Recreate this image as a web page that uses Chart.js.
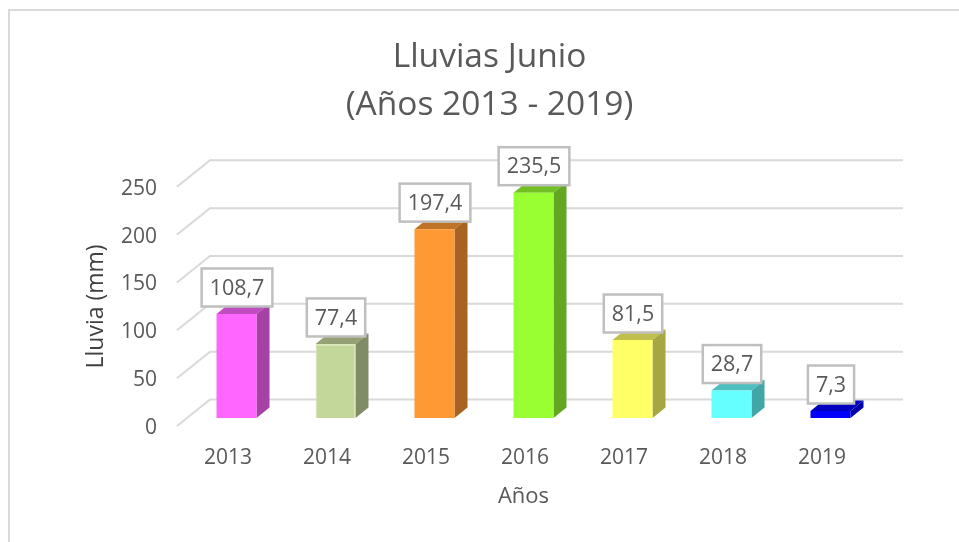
<!DOCTYPE html>
<html>
<head>
<meta charset="utf-8">
<script src="https://cdn.jsdelivr.net/npm/chart.js@4"></script>
<style>
  html, body { margin: 0; background: #fff; overflow: hidden; }
  #frame { position: absolute; left: 8px; top: 9px; width: 960px; height: 560px; border: 2px solid #d9d9d9; box-sizing: border-box; }
  #wrap { position: absolute; left: 20px; top: 0; width: 939px; height: 542px; }
</style>
</head>
<body>
<div id="frame"></div>
<div id="wrap"><canvas id="chart" width="939" height="542"></canvas></div>
<script>
const titleLines = ['Lluvias Junio', '(Años 2013 - 2019)'];
const years = ['2013', '2014', '2015', '2016', '2017', '2018', '2019'];
const rainfall = [108.7, 77.4, 197.4, 235.5, 81.5, 28.7, 7.3];
const barColors = ['#ff66ff', '#c4d79b', '#ff9933', '#99ff33', '#ffff66', '#66ffff', '#0000ff'];
const barEdges = [0, 1.5, 0, 0, 0, 0, 0];
const yTicks = [0, 50, 100, 150, 200, 250];

const TEXT = '#595959';
const FONT = '"Open Sans"';

// wall goes back this far from the axis plane, bars sit part way in
const wallDx = 33, wallDy = -26.5;
const barDx = 10, barDy = -8;
const sideDx = 13, sideDy = -10.5;

function shade(hex, k) {
  const n = parseInt(hex.slice(1), 16);
  const r = Math.round((n >> 16 & 255) * k);
  const g = Math.round((n >> 8 & 255) * k);
  const b = Math.round((n & 255) * k);
  return `rgb(${r},${g},${b})`;
}

const fakeDepth = {
  id: 'fakeDepth',
  beforeDatasetsDraw(chart) {
    const { ctx, chartArea, scales } = chart;
    ctx.save();
    ctx.strokeStyle = '#d9d9d9';
    ctx.lineWidth = 2;
    yTicks.forEach(v => {
      const y = scales.y.getPixelForValue(v);
      ctx.beginPath();
      ctx.moveTo(chartArea.left, y);
      ctx.lineTo(chartArea.left + wallDx, y + wallDy);
      ctx.lineTo(chartArea.right + wallDx, y + wallDy);
      ctx.stroke();
    });
    ctx.restore();

    ctx.save();
    ctx.translate(barDx, barDy);
    chart.getDatasetMeta(0).data.forEach((bar, i) => {
      const l = bar.x - bar.width / 2, r = bar.x + bar.width / 2;
      ctx.fillStyle = shade(barColors[i], 0.75);
      ctx.beginPath();
      ctx.moveTo(l, bar.y);
      ctx.lineTo(l + sideDx, bar.y + sideDy);
      ctx.lineTo(r + sideDx, bar.y + sideDy);
      ctx.lineTo(r, bar.y);
      ctx.fill();
      ctx.fillStyle = shade(barColors[i], 0.65);
      ctx.beginPath();
      ctx.moveTo(r, bar.y);
      ctx.lineTo(r + sideDx, bar.y + sideDy);
      ctx.lineTo(r + sideDx, bar.base + sideDy);
      ctx.lineTo(r, bar.base);
      ctx.fill();
    });
    // front faces get drawn by chart.js inside this translate
  },
  afterDatasetsDraw(chart) {
    const { ctx } = chart;
    ctx.restore();
    ctx.save();
    ctx.font = '21.5px ' + FONT;
    ctx.textAlign = 'center';
    ctx.textBaseline = 'middle';
    chart.getDatasetMeta(0).data.forEach((bar, i) => {
      const txt = rainfall[i].toFixed(1).replace('.', ',');
      const w = ctx.measureText(txt).width + 16;
      const h = 38;
      const cx = bar.x + barDx + 0.5;
      const bottom = bar.y + barDy - 7.5;
      ctx.fillStyle = '#fff';
      ctx.strokeStyle = '#bfbfbf';
      ctx.lineWidth = 2.5;
      ctx.fillRect(cx - w / 2, bottom - h, w, h);
      ctx.strokeRect(cx - w / 2, bottom - h, w, h);
      ctx.fillStyle = TEXT;
      ctx.fillText(txt, cx, bottom - h / 2 + 1);
    });
    ctx.restore();
  }
};

new Chart(document.getElementById('chart'), {
  type: 'bar',
  data: {
    labels: years,
    datasets: [{
      data: rainfall,
      backgroundColor: barColors,
      borderColor: '#d8e6b8',
      borderWidth: barEdges,
      barPercentage: 1,
      categoryPercentage: 40 / 99
    }]
  },
  options: {
    responsive: false,
    animation: false,
    layout: { padding: { left: 0, right: 0, top: 34, bottom: 0 } },
    plugins: {
      legend: { display: false },
      tooltip: { enabled: false },
      title: {
        display: true,
        text: titleLines,
        color: TEXT,
        font: { family: FONT, size: 33.5, weight: 'normal', lineHeight: 1.43 },
        padding: { top: 0, bottom: 57 }
      }
    },
    scales: {
      x: {
        grid: { display: false, drawTicks: false },
        border: { display: false },
        ticks: { color: TEXT, font: { family: FONT, size: 21 }, padding: 19, labelOffset: 1.5, maxRotation: 0 },
        title: { display: true, text: 'Años', color: TEXT, font: { family: FONT, size: 22 }, padding: { top: 0, bottom: 32 } },
        afterFit(scale) { scale.height = 116; }
      },
      y: {
        min: 0,
        max: 250,
        afterBuildTicks(scale) { scale.ticks = yTicks.map(v => ({ value: v })); },
        grid: { display: false, drawTicks: false },
        border: { display: false },
        ticks: { color: TEXT, font: { family: FONT, size: 21 }, padding: 20, labelOffset: 2 },
        title: { display: true, text: 'Lluvia (mm)', color: '#404040', font: { family: FONT, size: 23 }, padding: { top: 63, bottom: 0 } },
        afterFit(scale) { scale.width = 157; }
      },
      // empty axis, only holds the space right of the plot so the title stays centred on the canvas
      y2: {
        position: 'right',
        grid: { display: false, drawTicks: false },
        border: { display: false },
        ticks: { display: false },
        afterFit(scale) { scale.width = 89; }
      }
    }
  },
  plugins: [fakeDepth]
});
</script>
</body>
</html>
